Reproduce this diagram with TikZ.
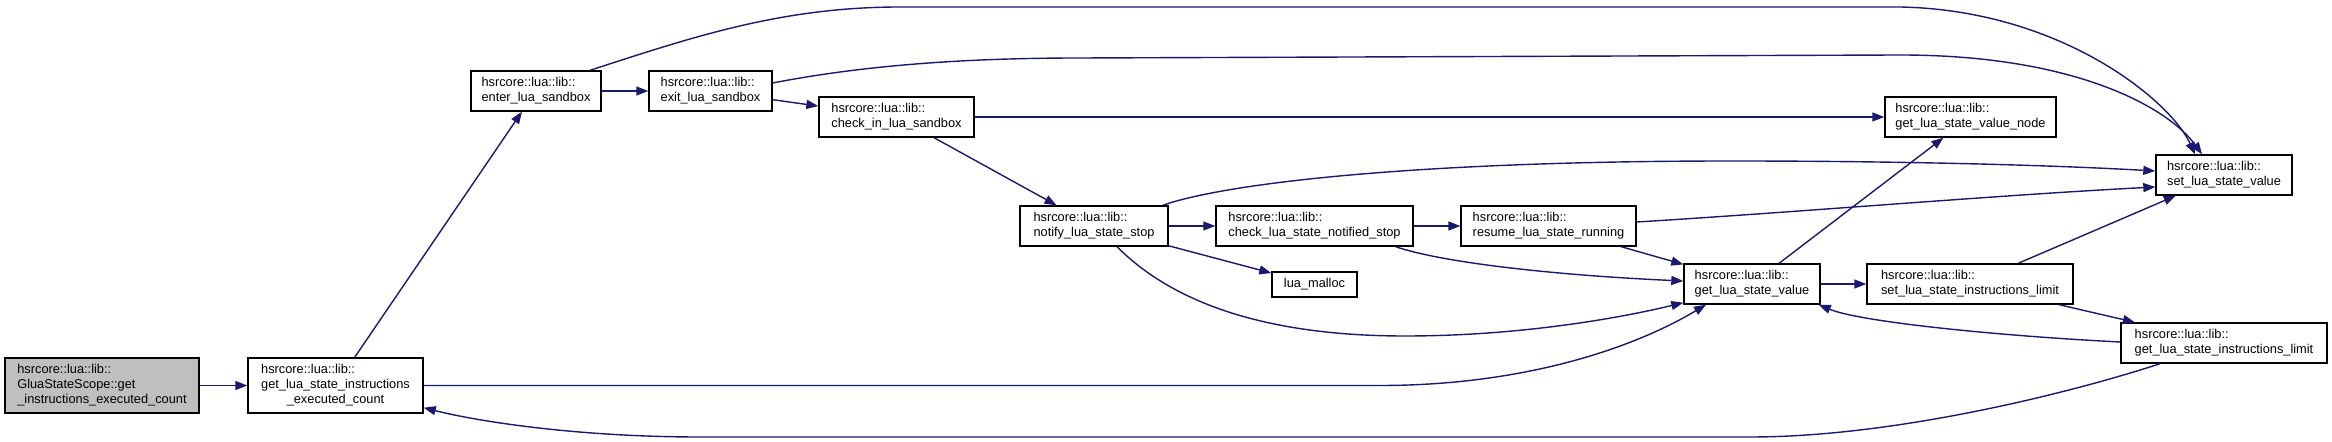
\documentclass[tikz,border=0pt]{standalone}
\usepackage{fontspec}
\setmainfont{Liberation Sans}
\usetikzlibrary{arrows.meta, calc}
\definecolor{edgeblue}{HTML}{191970}
\definecolor{rootgray}{HTML}{BFBFBF}
\tikzstyle{fnbox}=[draw=black, line width=0.7pt, fill=white, rectangle, inner sep=0pt, align=left, font=\fontsize{6.4}{7.5}\selectfont, minimum height=20pt]
\tikzstyle{rootbox}=[fnbox, fill=rootgray]
\tikzstyle{calls}=[edgeblue, line width=0.7pt, -{Triangle[length=6pt, width=4.5pt]}]

\begin{document}
\begin{tikzpicture}[x=0.5pt, y=-0.5pt]
				\useasboundingbox (0,0) rectangle (2332,442);

				% functions
				\node[rootbox, minimum width=97pt, minimum height=27.5pt] (root) at (102,385.5) {hsrcore::lua::lib::\\GluaStateScope::get\\\_instructions\_executed\_count};
				\node[fnbox, minimum width=87.5pt, minimum height=27.5pt] (gLSIEC) at (335.5,385.5) {\begin{tabular}{@{}l@{}}hsrcore::lua::lib::\\get\_lua\_state\_instructions\\\multicolumn{1}{@{}c@{}}{\_executed\_count}\end{tabular}};
				\node[fnbox, minimum width=65pt] (enter) at (536,91) {hsrcore::lua::lib::\\enter\_lua\_sandbox};
				\node[fnbox, minimum width=61.5pt] (exit) at (710.5,91) {hsrcore::lua::lib::\\exit\_lua\_sandbox};
				\node[fnbox, minimum width=77.5pt] (checkin) at (896.5,117) {hsrcore::lua::lib::\\check\_in\_lua\_sandbox};
				\node[fnbox, minimum width=85.5pt] (gLSVnode) at (1970.5,117) {hsrcore::lua::lib::\\get\_lua\_state\_value\_node};
				\node[fnbox, minimum width=68pt] (setLSV) at (2224,175) {hsrcore::lua::lib::\\set\_lua\_state\_value};
				\node[fnbox, minimum width=74pt] (notify) at (1094,226) {hsrcore::lua::lib::\\notify\_lua\_state\_stop};
				\node[fnbox, minimum width=98.5pt] (checkNotified) at (1314.5,226) {hsrcore::lua::lib::\\check\_lua\_state\_notified\_stop};
				\node[fnbox, minimum width=87.5pt] (resume) at (1548.5,226) {hsrcore::lua::lib::\\resume\_lua\_state\_running};
				\node[fnbox, minimum width=42.5pt, minimum height=12.5pt] (luamalloc) at (1314.5,284.5) {lua\_malloc};
				\node[fnbox, minimum width=68pt] (gLSV) at (1752,284) {hsrcore::lua::lib::\\get\_lua\_state\_value};
				\node[fnbox, minimum width=103pt] (setLSIL) at (1970,284) {hsrcore::lua::lib::\\set\_lua\_state\_instructions\_limit};
				\node[fnbox, minimum width=103pt] (gLSIL) at (2224,343) {hsrcore::lua::lib::\\get\_lua\_state\_instructions\_limit};

				% calls
				\draw[calls] (root) -- (gLSIEC);
				\draw[calls] (gLSIEC) -- (enter);
				\draw[calls] (gLSIEC.east) -- (1380,385.5) .. controls (1520,385.5) and (1630,350) .. ($(gLSV.south)+(-46,0)$);
				\draw[calls] (enter) -- (exit);
				\draw[calls] ($(enter.north)+(54,0)$) .. controls (690,38) and (780,7) .. (900,7) -- (1900,7) .. controls (2060,10) and (2170,100) .. ($(setLSV.north)+(-29,0)$);
				\draw[calls] ($(exit.east)+(0,-8)$) .. controls (860,66) and (960,58) .. (1080,58) -- (1900,55) .. controls (2080,55) and (2170,110) .. ($(setLSV.north)+(-22,0)$);
				\draw[calls] (exit) -- (checkin);
				\draw[calls] (checkin) -- (gLSVnode);
				\draw[calls] (checkin) -- (notify);
				\draw[calls] (notify) -- (checkNotified);
				\draw[calls] (notify) -- (luamalloc);
				\draw[calls] ($(notify.north east)+(-6,0)$) .. controls (1220,185) and (1400,161) .. (1732,161) .. controls (1900,161) and (2050,165) .. ($(setLSV.west)+(0,-4)$);
				\draw[calls] ($(notify.south)+(23,0)$) .. controls (1170,300) and (1260,336) .. (1405,336) .. controls (1520,336) and (1620,318) .. ($(gLSV.south west)+(0,-2)$);
				\draw[calls] (checkNotified) -- (resume);
				\draw[calls] ($(checkNotified.south east)+(-18,0)$) .. controls (1440,262) and (1550,275) .. ($(gLSV.west)+(0,-3)$);
				\draw[calls] ($(resume.east)+(0,-4)$) .. controls (1800,212) and (2000,195) .. ($(setLSV.west)+(0,12)$);
				\draw[calls] (resume) -- (gLSV);
				\draw[calls] (gLSV) -- (gLSVnode);
				\draw[calls] (gLSV) -- (setLSIL);
				\draw[calls] (setLSIL) -- (setLSV);
				\draw[calls] (setLSIL) -- (gLSIL);
				\draw[calls] ($(gLSIL.west)+(0,-1)$) .. controls (2000,336) and (1860,322) .. ($(gLSV.south east)+(-2,0)$);
				\draw[calls] ($(gLSIL.south)+(-64,0)$) .. controls (2080,390) and (1900,437) .. (1750,437) -- (700,437) .. controls (580,437) and (480,422) .. ($(gLSIEC.south east)+(0,-6)$);
			\end{tikzpicture}
\end{document}
